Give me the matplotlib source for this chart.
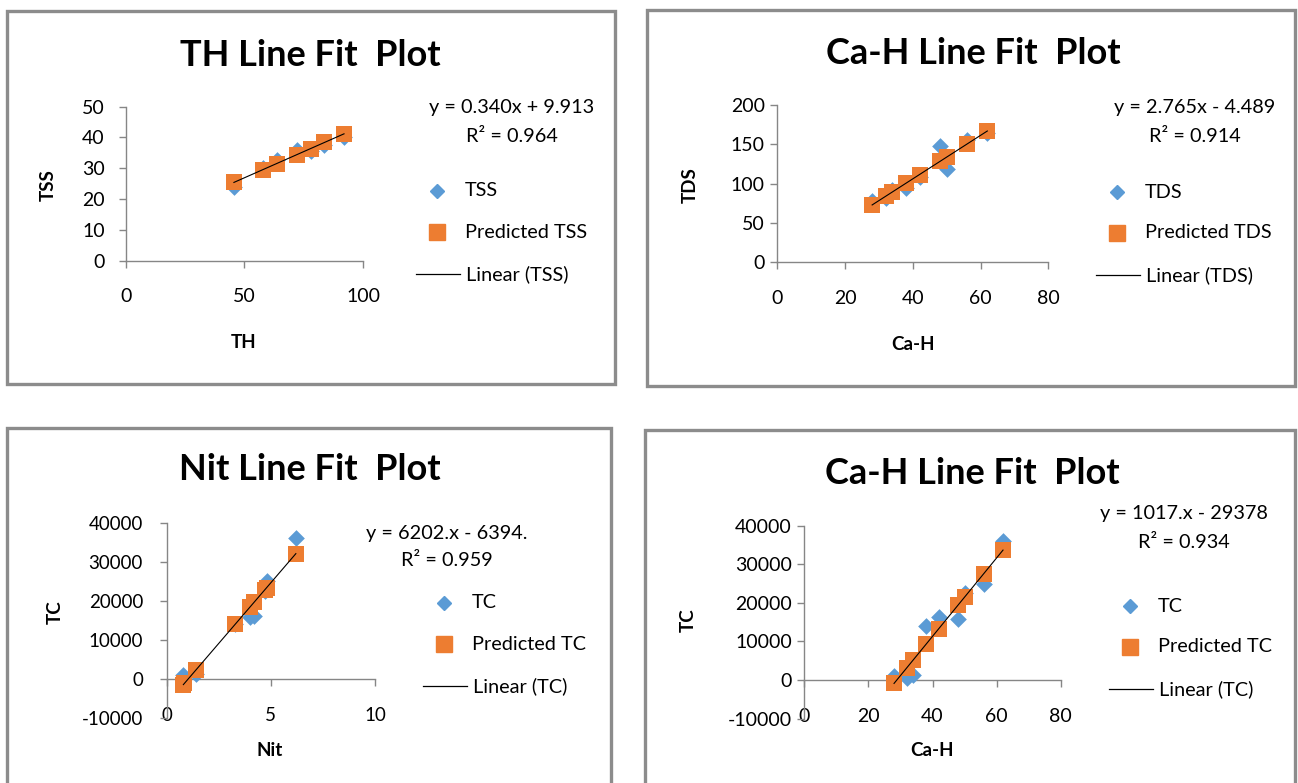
import matplotlib
matplotlib.use("Agg")
import matplotlib.pyplot as plt
from matplotlib.lines import Line2D
from matplotlib.patches import Rectangle

plt.rcParams["font.family"] = ["Lato", "DejaVu Sans"]
plt.rcParams["axes.unicode_minus"] = False

W, H = 1298, 783
BLUE = "#5B9BD5"
ORANGE = "#ED7D31"
AXIS = "#868686"
BORDER = "#8C8C8C"

# TH vs TSS
th = [45.6, 58, 63.6, 72, 78, 83.7, 92]
tss = [23.9, 30.2, 32.8, 36.0, 35.5, 37.7, 40.2]
tss_pred = [25.4, 29.6, 31.5, 34.4, 36.4, 38.4, 41.2]
tss_fit = (0.340, 9.913)

# Ca-H vs TDS
cah = [28, 32, 34, 38, 42, 48, 50, 56, 62]
tds = [78, 82, 92, 94, 108, 148, 118, 156, 164]
tds_pred = [72.9, 84.0, 89.5, 100.6, 111.6, 128.2, 133.8, 150.3, 167.0]
tds_fit = (2.765, -4.489)

# Nit vs TC
nit = [0.8, 0.85, 1.4, 3.3, 4.2, 4.0, 4.7, 4.8, 6.2]
tc = [1000, 500, 1200, 14000, 16200, 15800, 22500, 25000, 36000]
tc_pred_nit = [-1430, -1120, 2290, 14070, 19650, 18410, 22760, 23380, 32060]
tc_nit_fit = (6202, -6394)

# Ca-H vs TC
tc_pred_cah = [-900, 3200, 5200, 9300, 13300, 19400, 21500, 27600, 33700]
tc_cah_fit = (1017, -29378)


def frac(x, y):
    return x / W, 1 - y / H


def rect(x0, y0, x1, y1):
    return [x0 / W, 1 - y1 / H, (x1 - x0) / W, (y1 - y0) / H]


fig = plt.figure(figsize=(W / 100, H / 100), dpi=100)

# рамки панелей
for x0, y0, x1, y1 in [(7, 11, 615, 384), (647, 10, 1295, 386),
                       (7, 428, 611, 790), (645, 430, 1295, 790)]:
    fig.patches.append(Rectangle((x0 / W, 1 - y1 / H), (x1 - x0) / W, (y1 - y0) / H,
                                 transform=fig.transFigure, fill=False,
                                 edgecolor=BORDER, linewidth=2.4))


def panel(box, x, y, yp, fit, xlim, ylim, xticks, yticks, xlabel, ylabel,
          title, title_xy, xlab_xy, ylab_xy, eq, eq_xy, leg_xy, name,
          zero_axis=False, ypad=8, fs=14.3, tfs=14):
    ax = fig.add_axes(rect(*box))
    ax.scatter(x, y, marker="D", s=8.5 ** 2, color=BLUE, zorder=3, linewidths=0)
    ax.scatter(x, yp, marker="s", s=12 ** 2, color=ORANGE, zorder=4, linewidths=0)
    x0, x1 = min(x), max(x)
    ax.plot([x0, x1], [fit[0] * x0 + fit[1], fit[0] * x1 + fit[1]],
            color="black", linewidth=0.8, zorder=5)
    ax.set_xlim(*xlim)
    ax.set_ylim(*ylim)
    ax.set_xticks(xticks)
    ax.set_yticks(yticks)
    for s in ["top", "right"]:
        ax.spines[s].set_visible(False)
    for s in ["left", "bottom"]:
        ax.spines[s].set_color(AXIS)
        ax.spines[s].set_linewidth(1.0)
    if zero_axis:
        ax.spines["bottom"].set_position(("data", 0))
    ax.tick_params(axis="both", direction="out", length=5, width=1.0,
                   color=AXIS, labelsize=tfs, labelcolor="black")
    ax.tick_params(axis="x", pad=15)
    ax.tick_params(axis="y", pad=ypad)
    ax.patch.set_alpha(0)

    fig.text(*frac(*title_xy), title, ha="center", va="center",
             fontsize=26, fontweight="bold")
    fig.text(*frac(*xlab_xy), xlabel, ha="center", va="center",
             fontsize=13.5, fontweight="bold")
    fig.text(*frac(*ylab_xy), ylabel, ha="center", va="center",
             fontsize=13.5, fontweight="bold", rotation=90)
    ex, ey = eq_xy
    fig.text(*frac(ex, ey), eq[0], ha="center", va="center", fontsize=fs)
    fig.text(*frac(ex, ey + 28), eq[1], ha="center", va="center", fontsize=fs)

    lx, ly = leg_xy
    fig.add_artist(Line2D([lx / W], [1 - ly / H], marker="D", markersize=7,
                          color=BLUE, linestyle="none", transform=fig.transFigure))
    fig.add_artist(Line2D([lx / W], [1 - (ly + 41) / H], marker="s", markersize=11,
                          color=ORANGE, linestyle="none", transform=fig.transFigure))
    fig.add_artist(Line2D([(lx - 21) / W, (lx + 23) / W], [1 - (ly + 83) / H] * 2,
                          color="black", linewidth=0.9, transform=fig.transFigure))
    tx = lx + 28
    fig.text(*frac(tx, ly), name, ha="left", va="center", fontsize=fs)
    fig.text(*frac(tx, ly + 41), "Predicted " + name, ha="left", va="center", fontsize=fs)
    fig.text(*frac(tx + 1, ly + 83), "Linear (" + name + ")", ha="left", va="center",
             fontsize=fs)
    return ax


panel((125.7, 106.7, 363, 260.7), th, tss, tss_pred, tss_fit,
      (0, 100), (0, 50), [0, 50, 100], [0, 10, 20, 30, 40, 50],
      "TH", "TSS", "TH Line Fit  Plot", (310, 55), (244, 342), (48, 185),
      ("y = 0.340x + 9.913", "R\u00b2 = 0.964"), (512, 108), (437, 191), "TSS",
      ypad=10)

panel((777.3, 105, 1048.3, 262.3), cah, tds, tds_pred, tds_fit,
      (0, 80), (0, 200), [0, 20, 40, 60, 80], [0, 50, 100, 150, 200],
      "Ca-H", "TDS", "Ca-H Line Fit  Plot", (973, 53), (913, 345), (690, 185),
      ("y = 2.765x - 4.489", "R\u00b2 = 0.914"), (1195, 108), (1117, 192), "TDS",
      ypad=4)

panel((166.7, 522.6, 375, 718.1), nit, tc, tc_pred_nit, tc_nit_fit,
      (0, 10), (-10000, 40000), [0, 5, 10], [-10000, 0, 10000, 20000, 30000, 40000],
      "Nit", "TC", "Nit Line Fit  Plot", (310, 470), (270, 750), (55, 612),
      ("y = 6202.x - 6394.", "R\u00b2 = 0.959"), (447, 533), (444, 603), "TC",
      zero_axis=True, ypad=12, tfs=13.5)

panel((804.3, 525.7, 1060.7, 718.5), cah, tc, tc_pred_cah, tc_cah_fit,
      (0, 80), (-10000, 40000), [0, 20, 40, 60, 80], [-10000, 0, 10000, 20000, 30000, 40000],
      "Ca-H", "TC", "Ca-H Line Fit  Plot", (972, 474), (932, 750), (688, 620),
      ("y = 1017.x - 29378", "R\u00b2 = 0.934"), (1184, 514), (1130, 606), "TC",
      zero_axis=True, ypad=4)

fig.savefig("out.png", dpi=100)
